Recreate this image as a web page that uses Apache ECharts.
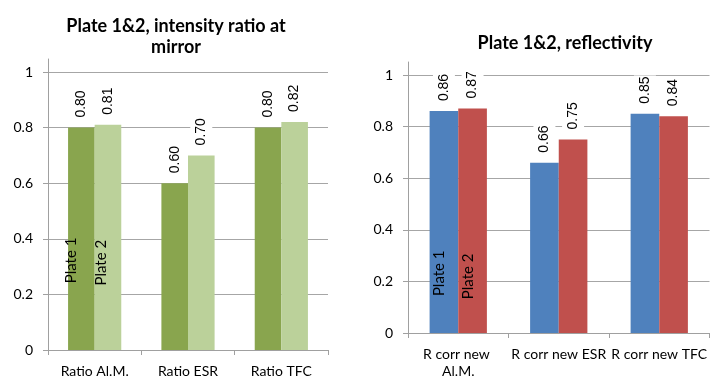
<!DOCTYPE html>
<html>
<head>
<meta charset="utf-8">
<script src="https://cdn.jsdelivr.net/npm/echarts@6/dist/echarts.min.js"></script>
<style>
  html, body { margin: 0; padding: 0; background: #fff; }
  #chart { width: 712px; height: 380px; }
</style>
</head>
<body>
<div id="chart"></div>
<script>
// Categories and measured values for both plates
const ratioCategories = ['Ratio Al.M.', 'Ratio ESR', 'Ratio TFC'];
const reflCategories = ['R corr new Al.M.', 'R corr new ESR', 'R corr new TFC'];
const plate1Ratio = [0.80, 0.60, 0.80];
const plate2Ratio = [0.81, 0.70, 0.82];
const plate1Refl = [0.86, 0.66, 0.85];
const plate2Refl = [0.87, 0.75, 0.84];
const seriesNames = ['Plate 1', 'Plate 2'];
const yMin = 0, yMax = 1, yStep = 0.2;

const AXIS_FONT = 'Lato';
const VALUE_FONT = 'Liberation Sans';
const GRID_COLOR = '#a6a6a6';
const AXIS_COLOR = '#a0a0a0';

const chart = echarts.init(document.getElementById('chart'), null, { renderer: 'canvas' });

function valueLabel() {
  return {
    show: true,
    position: 'top',
    rotate: 90,
    align: 'left',
    verticalAlign: 'middle',
    distance: 8,
    padding: [4, 1, 4, 2],
    backgroundColor: '#fff',
    fontFamily: VALUE_FONT,
    fontSize: 14,
    color: '#000',
    formatter: p => p.value.toFixed(2)
  };
}

// series name written up the first bar of each series
// (label offset is in the rotated frame: its second component moves the text sideways)
function nameMark(name, cat, level, shift) {
  return {
    symbol: 'rect',
    symbolSize: 1,
    silent: true,
    animation: false,
    itemStyle: { color: 'rgba(0,0,0,0)' },
    label: {
      show: true,
      position: 'inside',
      rotate: 90,
      align: 'left',
      verticalAlign: 'middle',
      offset: [0, shift],
      fontFamily: AXIS_FONT,
      fontSize: 15,
      color: '#000',
      formatter: name
    },
    data: [{ coord: [cat, level], name }]
  };
}

function valueAxis(gridIndex) {
  return {
    type: 'value', gridIndex, min: yMin, max: yMax, interval: yStep,
    axisLine: { show: true, lineStyle: { color: AXIS_COLOR } },
    axisTick: { show: true, length: 5, lineStyle: { color: AXIS_COLOR } },
    axisLabel: { margin: 15, fontFamily: AXIS_FONT, fontSize: 14, color: '#000' },
    splitLine: { show: true, lineStyle: { color: GRID_COLOR } }
  };
}

function categoryAxis(gridIndex, data) {
  return {
    type: 'category', gridIndex, data,
    axisLine: { show: true, lineStyle: { color: AXIS_COLOR } },
    axisTick: { show: true, length: 5, alignWithLabel: false, lineStyle: { color: AXIS_COLOR } },
    axisLabel: {
      interval: 0, margin: 13, fontFamily: AXIS_FONT, fontSize: 14, color: '#000',
      lineHeight: 17, width: 101, overflow: 'break'
    }
  };
}

// bare axis line rising a little above the top gridline
function spineAxis(gridIndex) {
  return {
    type: 'value', gridIndex, min: 0, max: 1,
    axisLine: { show: true, lineStyle: { color: AXIS_COLOR } },
    axisTick: { show: false }, axisLabel: { show: false }, splitLine: { show: false }
  };
}

function bars(name, data, color, xi, mark) {
  const s = {
    type: 'bar', name, data, xAxisIndex: xi, yAxisIndex: xi,
    barGap: '0%', barCategoryGap: '43%',
    itemStyle: { color },
    label: valueLabel(),
    animation: false
  };
  if (mark) s.markPoint = mark;
  return s;
}

chart.setOption({
  backgroundColor: '#fff',
  animation: false,
  graphic: [
    {
      type: 'text', x: 176, y: 37,
      style: {
        text: 'Plate 1&2, intensity ratio at\nmirror',
        align: 'center', verticalAlign: 'middle',
        font: 'bold 18px Lato', lineHeight: 21, fill: '#000'
      }
    },
    {
      type: 'text', x: 565, y: 43,
      style: {
        text: 'Plate 1&2, reflectivity',
        align: 'center', verticalAlign: 'middle',
        font: 'bold 18px Lato', fill: '#000'
      }
    }
  ],
  grid: [
    { left: 48, width: 280, top: 72, bottom: 28 },
    { left: 408, right: -2, top: 75, bottom: 46 },
    { left: 48, width: 280, top: 59, bottom: 28 },
    { left: 408, right: -2, top: 62, bottom: 46 }
  ],
  xAxis: [
    categoryAxis(0, ratioCategories),
    categoryAxis(1, reflCategories),
    { type: 'category', gridIndex: 2, show: false, data: ratioCategories },
    { type: 'category', gridIndex: 3, show: false, data: reflCategories }
  ],
  yAxis: [valueAxis(0), valueAxis(1), spineAxis(2), spineAxis(3)],
  series: [
    bars(seriesNames[0], plate1Ratio, '#89a54e', 0, nameMark(seriesNames[0], ratioCategories[0], 0.24, -10)),
    bars(seriesNames[1], plate2Ratio, '#bbd19a', 0, nameMark(seriesNames[1], ratioCategories[0], 0.232, -7)),
    bars(seriesNames[0], plate1Refl, '#4f81bd', 1, nameMark(seriesNames[0], reflCategories[0], 0.143, -5)),
    bars(seriesNames[1], plate2Refl, '#c0504d', 1, nameMark(seriesNames[1], reflCategories[0], 0.131, -4))
  ]
});
</script>
</body>
</html>
